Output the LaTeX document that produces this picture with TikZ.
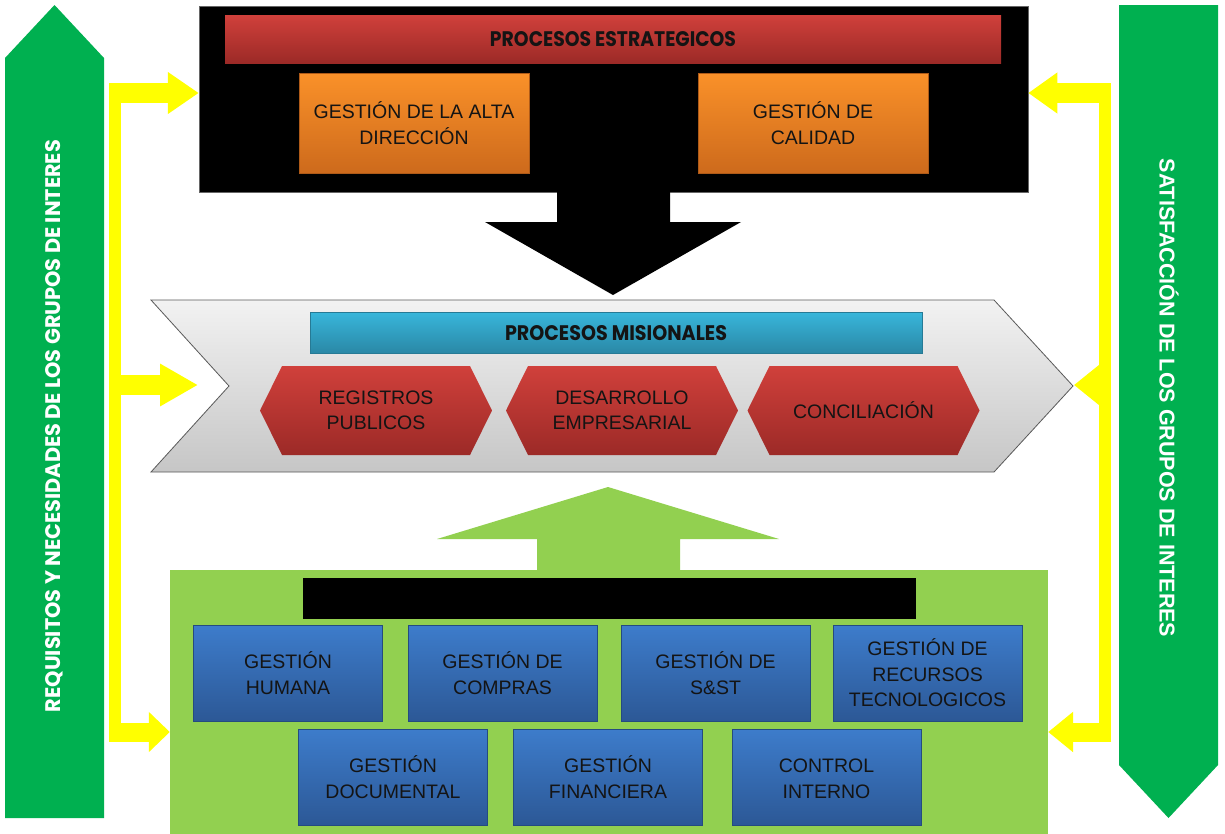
\documentclass[tikz,border=0pt]{standalone}
\usepackage{fontspec}
\usepackage{graphicx}
\setmainfont{Liberation Sans}
\newfontfamily\gothic{Poppins}
\usetikzlibrary{arrows.meta}
\definecolor{lgreen}{HTML}{92D050}
\definecolor{dgreen}{HTML}{00B050}
\definecolor{ylw}{HTML}{FFFF00}
\definecolor{redT}{HTML}{D0403B}
\definecolor{redB}{HTML}{9C2A27}
\definecolor{orT}{HTML}{FA9129}
\definecolor{orB}{HTML}{CD6A1C}
\definecolor{cyT}{HTML}{38B6DB}
\definecolor{cyB}{HTML}{2A88A6}
\definecolor{blT}{HTML}{3D7CCB}
\definecolor{blB}{HTML}{2C5896}
\definecolor{txt}{HTML}{141414}
\definecolor{chT}{HTML}{F2F2F2}
\definecolor{chB}{HTML}{C6C6C6}
\newcommand\fitto[3]{\resizebox{#1}{#2}{#3}}
\newcommand\hexa[4]{%
  \shade[hexfill] (#2-116,#3) -- (#2-94,#3-44.5) -- (#2+94,#3-44.5) -- (#2+116,#3)
    -- (#2+94,#3+44.5) -- (#2-94,#3+44.5) -- cycle;
  \node[boxtext] (#1) at (#2,#3) {#4};}
\tikzset{
  boxtext/.style={inner sep=0pt, align=center, text=txt, font=\fontsize{19.5}{25.5}\selectfont},
  orangebox/.style={boxtext, minimum width=230pt, minimum height=100pt, top color=orT, bottom color=orB, draw=orB!85!black, line width=0.6pt},
  bluebox/.style={boxtext, minimum width=189pt, minimum height=96pt, top color=blT, bottom color=blB, draw=blB!85!black, line width=0.5pt},
  banner/.style={inner sep=0pt, text=txt},
  hexfill/.style={top color=redT, bottom color=redB},
  vbar/.style={draw=ylw, line width=12pt},
  yarm/.style={draw=ylw, line width=20pt, -{Triangle[length=31pt,width=40pt]}},
  sidetext/.style={inner sep=0pt, text=white},
}
\begin{document}
\begin{tikzpicture}[x=1pt,y=-1pt]
\useasboundingbox[fill=white] (0,0) rectangle (1225,833);

% side green arrows
\fill[dgreen] (5,58) -- (54.5,5) -- (104,58) -- (104,818) -- (5,818) -- cycle;
\node[sidetext, rotate=90] (req) at (54,426)
  {\fitto{572pt}{15pt}{\gothic\bfseries REQUISITOS Y NECESIDADES DE LOS GRUPOS DE INTERES}};
\fill[dgreen] (1119,5) -- (1218,5) -- (1218,765) -- (1168.5,818) -- (1119,765) -- cycle;
\node[sidetext, rotate=-90, font=\bfseries\fontsize{21.5}{24}\selectfont] (sat) at (1169,398)
  {SATISFACCIÓN DE LOS GRUPOS DE INTERES};

% strategic processes
\node[fill=black, draw=black!60, line width=0.5pt, minimum width=829pt, minimum height=186pt, inner sep=0pt] (estr) at (613.5,99) {};
\fill[black] (557,191) -- (557,222) -- (485,222) -- (613,295) -- (741,222) -- (670,222) -- (670,191) -- cycle;
\node[banner, minimum width=776pt, minimum height=48pt, top color=redT, bottom color=redB] (pe) at (613,39) {};
\node[banner] (pet) at (613,39) {\fitto{246pt}{15pt}{\gothic\bfseries PROCESOS ESTRATEGICOS}};
\node[orangebox] (alta) at (414,123) {GESTIÓN DE LA ALTA\\DIRECCIÓN};
\node[orangebox] (cal) at (813,123) {GESTIÓN DE\\CALIDAD};

% missional processes chevron
\shade[top color=chT, bottom color=chB, draw=black!65, line width=0.8pt]
  (151,300) -- (994,300) -- (1073,386) -- (994,472) -- (151,472) -- (229,386) -- cycle;
\node[banner, minimum width=612pt, minimum height=41pt, top color=cyT, bottom color=cyB, draw=cyB!90!black, line width=0.4pt] (pm) at (616,332.5) {};
\node[banner] (pmt) at (616,333) {\fitto{222pt}{15pt}{\gothic\bfseries PROCESOS MISIONALES}};
\hexa{reg}{376}{410.5}{REGISTROS\\PUBLICOS}
\hexa{des}{622}{410.5}{DESARROLLO\\EMPRESARIAL}
\hexa{con}{863.5}{410.5}{CONCILIACIÓN}

% support processes
\fill[lgreen] (537,571) -- (537,539) -- (437,539) -- (608,487) -- (779,539) -- (680,539) -- (680,571) -- cycle;
\node[fill=lgreen, minimum width=878pt, minimum height=264pt, inner sep=0pt] (apoyo) at (609,702) {};
\node[fill=black, minimum width=613pt, minimum height=41pt, inner sep=0pt] (pa) at (609.5,598.5) {};
\node[bluebox] (hum) at (288,673) {GESTIÓN\\HUMANA};
\node[bluebox] (com) at (502.5,673) {GESTIÓN DE\\COMPRAS};
\node[bluebox] (sst) at (715.5,673) {GESTIÓN DE\\S\&ST};
\node[bluebox] (tec) at (927.5,673) {GESTIÓN DE\\RECURSOS\\TECNOLOGICOS};
\node[bluebox] (doc) at (393,777) {GESTIÓN\\DOCUMENTAL};
\node[bluebox] (fin) at (608,777) {GESTIÓN\\FINANCIERA};
\node[bluebox] (ci) at (826.5,777) {\vphantom{Ó}CONTROL\\INTERNO};

% yellow connectors
\coordinate (l1) at (109,93);
\coordinate (l2) at (109,385);
\coordinate (l3) at (109,732);
\coordinate (lt) at (115,83);
\coordinate (lb) at (115,741);
\coordinate (lm) at (198,385);
\coordinate (r1) at (1111,93);
\coordinate (r2) at (1111,385);
\coordinate (r3) at (1111,732);
\coordinate (rt) at (1105,83);
\coordinate (rb) at (1105,741);
\coordinate (rm) at (1074,385);
\draw[vbar] (lt) -- (lb);
\draw[vbar] (rt) -- (rb);
\draw[yarm] (l1) -- (estr.west |- l1);
\draw[yarm, -{Triangle[length=38pt,width=40pt]}] (l2) -- (lm);
\draw[yarm, line width=19pt, -{Triangle[length=21pt,width=39pt]}] (l3) -- (apoyo.west |- l3);
\draw[yarm, -{Triangle[length=29pt,width=39pt]}] (r1) -- (estr.east |- r1);
\draw[yarm, -{Triangle[length=26pt,width=40pt]}] (r2) -- (rm);
\draw[yarm, line width=19pt, -{Triangle[length=25pt,width=39pt]}] (r3) -- (apoyo.east |- r3);
\end{tikzpicture}
\end{document}
